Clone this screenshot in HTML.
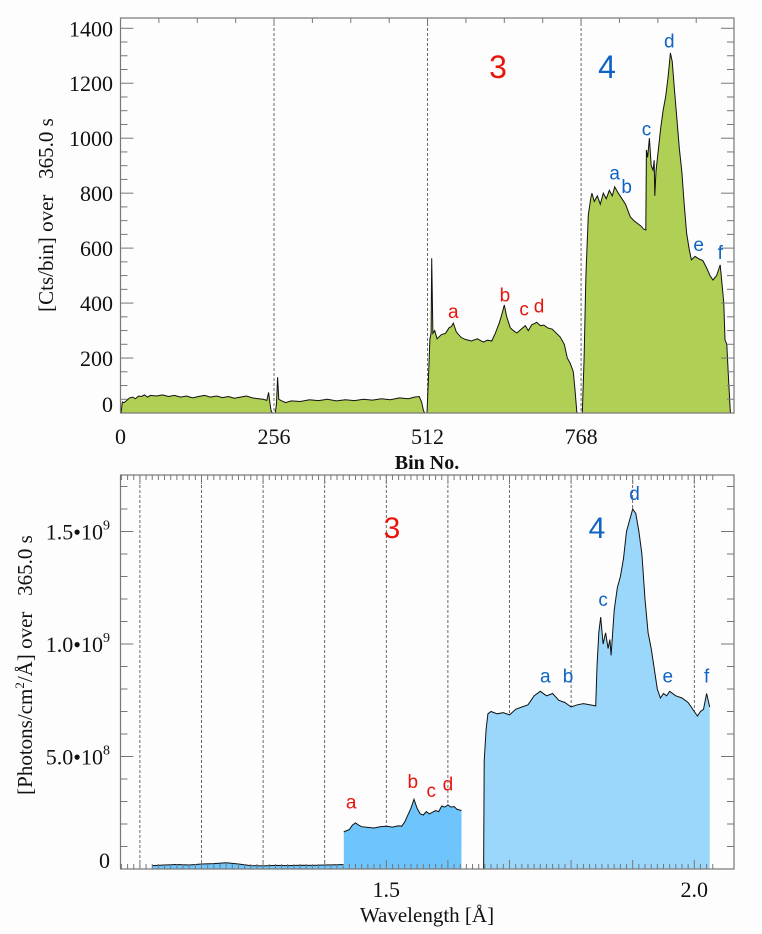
<!DOCTYPE html>
<html><head><meta charset="utf-8">
<style>
html,body{margin:0;padding:0;background:#fdfdfd;}
svg{display:block;}
.ser{font-family:"Liberation Serif",serif;}
.san{font-family:"Liberation Sans",sans-serif;}
.pre{white-space:pre;}
</style></head>
<body>
<svg id="chart" width="762" height="934" viewBox="0 0 762 934" xmlns="http://www.w3.org/2000/svg">
<g id="topPanel"></g>
<g id="botPanel"></g>
</svg>
<script>
// ---------- top panel data (bin, counts) ----------
const topSegA_bins=[1,3,6,10,15,20,25,30,35,40,45,50,60,70,80,90,100,110,120,130,140,150,160,170,180,190,200,210,220,230,238,244,247,249,251,253];
const topSegA_vals=[0,40,38,45,55,58,52,62,60,66,58,64,62,66,60,64,58,62,55,60,64,58,62,56,60,54,58,62,55,52,50,46,75,40,10,0];
const topSegB_bins=[258,260,262,264,268,275,285,300,315,330,345,360,375,390,405,420,435,450,465,480,490,498,502,505,507];
const topSegB_vals=[0,30,130,50,45,38,44,42,48,45,50,44,48,45,50,47,52,48,55,52,58,60,40,10,0];
const topSegC_bins=[511,514,516,518,519,521,524,528,535,542,548,552,555,560,568,575,585,595,605,612,619,625,632,636,640,644,650,655,661,668,675,680,686,690,694,700,706,712,720,727,733,740,745,750,755,758,761];
const topSegC_vals=[0,150,270,290,563,290,300,270,285,290,310,315,327,295,275,268,262,270,258,265,262,290,330,360,393,350,310,300,291,305,318,300,322,325,330,318,320,310,305,290,277,250,200,180,150,80,0];
const topSegD_bins=[770,773,776,780,784,786,790,795,800,805,810,815,820,824,830,836,842,850,856,862,868,872,876,877,879,882,885,888,890,891,893,897,901,905,909,913,917,920,924,928,932,936,940,944,948,952,958,965,971,977,983,988,994,1000,1003,1006,1008,1011,1014,1017];
const topSegD_vals=[0,200,500,720,780,800,770,790,760,800,780,810,790,823,800,780,760,714,700,690,680,670,666,957,930,1000,900,884,920,790,880,960,1040,1103,1150,1220,1310,1280,1170,1066,960,880,760,655,600,557,570,560,555,530,500,484,500,539,470,400,266,250,120,0];
const topYTicks=[0,200,400,600,800,1000,1200,1400];
const topXTicks=[0,256,512,768];
const topLabels3=["a","b","c","d"];
const topLabels3_bins=[555,641,673,698];
const topLabels3_vals=[345,405,355,365];
const topLabels4=["a","b","c","d","e","f"];
const topLabels4_bins=[824,844,877,915,964,1000];
const topLabels4_vals=[850,800,1010,1330,590,560];

// ---------- bottom panel data (wavelength Å, flux) ----------
const botSeg1_wl=[1.12,1.14,1.16,1.18,1.20,1.22,1.24,1.26,1.28,1.30,1.32,1.34,1.36,1.38,1.40,1.42,1.431];
const botSeg1_vals=[1.5e7,1.8e7,2.0e7,1.8e7,2.2e7,2.4e7,2.8e7,2.2e7,1.5e7,1.4e7,1.6e7,1.5e7,1.7e7,1.6e7,1.8e7,1.9e7,2.0e7];
const botSeg2_wl=[1.431,1.432,1.44,1.445,1.45,1.455,1.46,1.47,1.48,1.49,1.50,1.51,1.52,1.525,1.53,1.54,1.545,1.55,1.555,1.56,1.565,1.57,1.58,1.585,1.59,1.595,1.60,1.605,1.61,1.615,1.622];
const botSeg2_vals=[1.64e8,1.66e8,1.75e8,1.95e8,2.05e8,1.95e8,1.88e8,1.85e8,1.82e8,1.88e8,1.9e8,1.86e8,1.92e8,1.9e8,2.1e8,2.7e8,3.1e8,2.7e8,2.45e8,2.4e8,2.55e8,2.45e8,2.6e8,2.55e8,2.8e8,2.75e8,2.85e8,2.75e8,2.78e8,2.65e8,2.6e8];
const botSeg3_wl=[1.658,1.659,1.662,1.665,1.67,1.68,1.69,1.70,1.71,1.72,1.73,1.74,1.75,1.76,1.77,1.78,1.79,1.80,1.81,1.82,1.83,1.84,1.842,1.845,1.848,1.852,1.856,1.86,1.863,1.865,1.87,1.875,1.88,1.885,1.89,1.895,1.90,1.905,1.91,1.915,1.92,1.925,1.93,1.94,1.945,1.95,1.955,1.96,1.97,1.98,1.99,2.00,2.005,2.01,2.015,2.02,2.025];
const botSeg3_vals=[0,4.8e8,6.2e8,6.9e8,7.0e8,6.9e8,6.95e8,6.85e8,7.1e8,7.2e8,7.3e8,7.7e8,7.9e8,7.7e8,7.8e8,7.5e8,7.4e8,7.2e8,7.3e8,7.35e8,7.3e8,7.25e8,9.0e8,1.05e9,1.12e9,1.0e9,1.05e9,0.98e9,1.02e9,0.95e9,1.15e9,1.25e9,1.3e9,1.38e9,1.5e9,1.55e9,1.6e9,1.58e9,1.5e9,1.4e9,1.2e9,1.05e9,0.98e9,0.8e9,0.76e9,0.78e9,0.77e9,0.79e9,0.77e9,0.76e9,0.74e9,0.7e9,0.68e9,0.7e9,0.71e9,0.78e9,0.72e9];
const botYTicks=[0,5e8,1e9,1.5e9];
const botYTickLabels=[["0",""],["5.0•10","8"],["1.0•10","9"],["1.5•10","9"]];
const botXTicks=[1.5,2.0];
const botXTickLabels=["1.5","2.0"];
const botDashed=[1.1,1.2,1.3,1.4,1.5,1.6,1.7,1.8,1.9,2.0];
const botLabels3=["a","b","c","d"];
const botLabels3_wl=[1.443,1.543,1.573,1.6];
const botLabels3_vals=[2.7e8,3.6e8,3.2e8,3.5e8];
const botLabels4=["a","b","c","d","e","f"];
const botLabels4_wl=[1.758,1.795,1.852,1.903,1.957,2.02];
const botLabels4_vals=[8.3e8,8.3e8,1.17e9,1.64e9,8.3e8,8.3e8];

const NS="http://www.w3.org/2000/svg";
function mk(tag,attrs,parent,text){const e=document.createElementNS(NS,tag);for(const k in attrs)e.setAttribute(k,attrs[k]);if(text!==undefined)e.textContent=text;parent.appendChild(e);return e;}
const SERIF='"Liberation Serif", serif';
const SANS='"Liberation Sans", sans-serif';

// ---- top axes ----
const T={x0:120.5,x1:734,y0:413,y1:18};
const tx=b=>T.x0+b*(T.x1-T.x0)/1023;
const ty=v=>T.y0-v*0.2748;
const topG=document.getElementById('topPanel');
mk('rect',{x:T.x0,y:T.y1,width:T.x1-T.x0,height:T.y0-T.y1,fill:'#fdfdfd'},topG);
[256,512,768].forEach(b=>{const l=mk('line',{x1:tx(b),x2:tx(b),y1:T.y1,y2:T.y0,stroke:'#444','stroke-width':0.8,'stroke-dasharray':'3,2'},topG);

});
function areaTop(bins,vals,name){
  let d='M'+tx(bins[0])+','+T.y0;
  let ln='';
  bins.forEach((b,i)=>{d+=' L'+tx(b).toFixed(1)+','+ty(vals[i]).toFixed(1);ln+=(i?' L':'M')+tx(b).toFixed(1)+','+ty(vals[i]).toFixed(1);});
  d+=' L'+tx(bins[bins.length-1])+','+T.y0+' Z';
  const a=mk('path',{d:d,fill:'#b0cf55'},topG);
  
  
  const l=mk('path',{d:ln,fill:'none',stroke:'#111','stroke-width':1},topG);
  
  
}
areaTop(topSegA_bins,topSegA_vals,'segment-1');
areaTop(topSegB_bins,topSegB_vals,'segment-2');
areaTop(topSegC_bins,topSegC_vals,'segment-3');
areaTop(topSegD_bins,topSegD_vals,'segment-4');
mk('rect',{x:T.x0,y:T.y1,width:T.x1-T.x0,height:T.y0-T.y1,fill:'none',stroke:'#777','stroke-width':1.2},topG);
for(let v=0;v<=1400;v+=50){const maj=v%200===0;const L=maj?13:7;
 mk('line',{x1:T.x0,x2:T.x0+L,y1:ty(v),y2:ty(v),stroke:'#777','stroke-width':1},topG);
 mk('line',{x1:T.x1,x2:T.x1-L,y1:ty(v),y2:ty(v),stroke:'#777','stroke-width':1},topG);}
for(let b=0;b<=1023;b+=64){mk('line',{x1:tx(b),x2:tx(b),y1:T.y1,y2:T.y1+(b%256===0?8:5),stroke:'#777','stroke-width':1},topG);}
topYTicks.forEach(v=>{const t=mk('text',{x:113,y:ty(v)+(v===0?-1:8),'text-anchor':'end','font-size':22,'font-family':SERIF,fill:'#111'},topG,String(v));

});
topXTicks.forEach(b=>{const t=mk('text',{x:tx(b),y:444,'text-anchor':'middle','font-size':22,'font-family':SERIF,fill:'#111'},topG,String(b));

});

let yt=mk('text',{x:0,y:0,transform:'translate(53,215) rotate(-90)','text-anchor':'middle','font-size':21,'font-family':SERIF,class:'pre',fill:'#111'},topG,'[Cts/bin] over   365.0 s');


let xt=mk('text',{x:427,y:469,'text-anchor':'middle','font-size':20,'font-weight':'bold','font-family':SERIF,fill:'#111'},topG,'Bin No.');


let o3=mk('text',{x:498,y:78,'text-anchor':'middle','font-size':32,'font-family':SANS,fill:'#e8140e'},topG,'3');


let o4=mk('text',{x:607,y:78,'text-anchor':'middle','font-size':32,'font-family':SANS,fill:'#0e63c4'},topG,'4');


topLabels3.forEach((s,i)=>{const t=mk('text',{x:tx(topLabels3_bins[i]),y:ty(topLabels3_vals[i]),'text-anchor':'middle','font-size':19,'font-family':SANS,fill:'#e8140e'},topG,s);

});
topLabels4.forEach((s,i)=>{const t=mk('text',{x:tx(topLabels4_bins[i]),y:ty(topLabels4_vals[i]),'text-anchor':'middle','font-size':19,'font-family':SANS,fill:'#0e63c4'},topG,s);

});

// ---- bottom axes ----
const B={x0:120.5,x1:734,y0:869,y1:475};
const bx=w=>386.3+(w-1.5)*616;
const by=v=>B.y0-v/5e8*112.5;
const botG=document.getElementById('botPanel');
mk('rect',{x:B.x0,y:B.y1,width:B.x1-B.x0,height:B.y0-B.y1,fill:'#fdfdfd'},botG);
botDashed.forEach(w=>{const l=mk('line',{x1:bx(w),x2:bx(w),y1:B.y1,y2:B.y0,stroke:'#444','stroke-width':0.8,'stroke-dasharray':'3,2'},botG);

});
function areaBot(wl,vals,name,col){
  let d='M'+bx(wl[0])+','+B.y0; let ln='';
  wl.forEach((w,i)=>{d+=' L'+bx(w).toFixed(1)+','+by(vals[i]).toFixed(1);ln+=(i?' L':'M')+bx(w).toFixed(1)+','+by(vals[i]).toFixed(1);});
  d+=' L'+bx(wl[wl.length-1])+','+B.y0+' Z';
  const a=mk('path',{d:d,fill:col},botG);
  
  
  const l=mk('path',{d:ln,fill:'none',stroke:'#111','stroke-width':1},botG);
  
  
}
areaBot(botSeg1_wl,botSeg1_vals,'flux-segment-1','#6ec5fb');
areaBot(botSeg2_wl,botSeg2_vals,'flux-order-3','#6ec5fb');
areaBot(botSeg3_wl,botSeg3_vals,'flux-order-4','#9bd6fb');
mk('rect',{x:B.x0,y:B.y1,width:B.x1-B.x0,height:B.y0-B.y1,fill:'none',stroke:'#777','stroke-width':1.2},botG);
for(let k=0;k<=17;k++){const v=k*1e8;const maj=k%5===0;const L=maj?13:7;
 mk('line',{x1:B.x0,x2:B.x0+L,y1:by(v),y2:by(v),stroke:'#777','stroke-width':1},botG);
 mk('line',{x1:B.x1,x2:B.x1-L,y1:by(v),y2:by(v),stroke:'#777','stroke-width':1},botG);}
for(let k=102;k<=203;k++){const w=k/100;const x=bx(w);if(x<B.x0||x>B.x1)continue;const L=k%10===0?9:5;
 mk('line',{x1:x,x2:x,y1:B.y1,y2:B.y1+L,stroke:'#777','stroke-width':1},botG);
 mk('line',{x1:x,x2:x,y1:B.y0,y2:B.y0-L,stroke:'#777','stroke-width':1},botG);}
botYTicks.forEach((v,i)=>{const t=mk('text',{x:110,y:by(v)+(v===0?-1:8),'text-anchor':'end','font-size':22,'font-family':SERIF,fill:'#111'},botG);
 
 
 const a=document.createElementNS(NS,'tspan');a.textContent=botYTickLabels[i][0];t.appendChild(a);
 if(botYTickLabels[i][1]){const s=document.createElementNS(NS,'tspan');s.setAttribute('dy','-10');s.setAttribute('font-size','14');s.textContent=botYTickLabels[i][1];t.appendChild(s);}
});
botXTicks.forEach((w,i)=>{const t=mk('text',{x:bx(w),y:897,'text-anchor':'middle','font-size':22,'font-family':SERIF,fill:'#111'},botG,botXTickLabels[i]);

});
let bxt=mk('text',{x:427,y:922,'text-anchor':'middle','font-size':21,'font-family':SERIF,fill:'#111'},botG,'Wavelength [Å]');


let byt=mk('text',{x:0,y:0,transform:'translate(32,665) rotate(-90)','text-anchor':'middle','font-size':21,'font-family':SERIF,class:'pre',fill:'#111'},botG);


[['[Photons/cm',0,21],['2',-8,13],['/Å] over   365.0 s',8,21]].forEach(p=>{const s=document.createElementNS(NS,'tspan');s.setAttribute('dy',p[1]);s.setAttribute('font-size',p[2]);s.textContent=p[0];byt.appendChild(s);});
let b3=mk('text',{x:392,y:538,'text-anchor':'middle','font-size':30,'font-family':SANS,fill:'#e8140e'},botG,'3');


let b4=mk('text',{x:597,y:538,'text-anchor':'middle','font-size':30,'font-family':SANS,fill:'#0e63c4'},botG,'4');


botLabels3.forEach((s,i)=>{const t=mk('text',{x:bx(botLabels3_wl[i]),y:by(botLabels3_vals[i]),'text-anchor':'middle','font-size':19,'font-family':SANS,fill:'#e8140e'},botG,s);

});
botLabels4.forEach((s,i)=>{const t=mk('text',{x:bx(botLabels4_wl[i]),y:by(botLabels4_vals[i]),'text-anchor':'middle','font-size':19,'font-family':SANS,fill:'#0e63c4'},botG,s);

});
</script>
</body></html>
